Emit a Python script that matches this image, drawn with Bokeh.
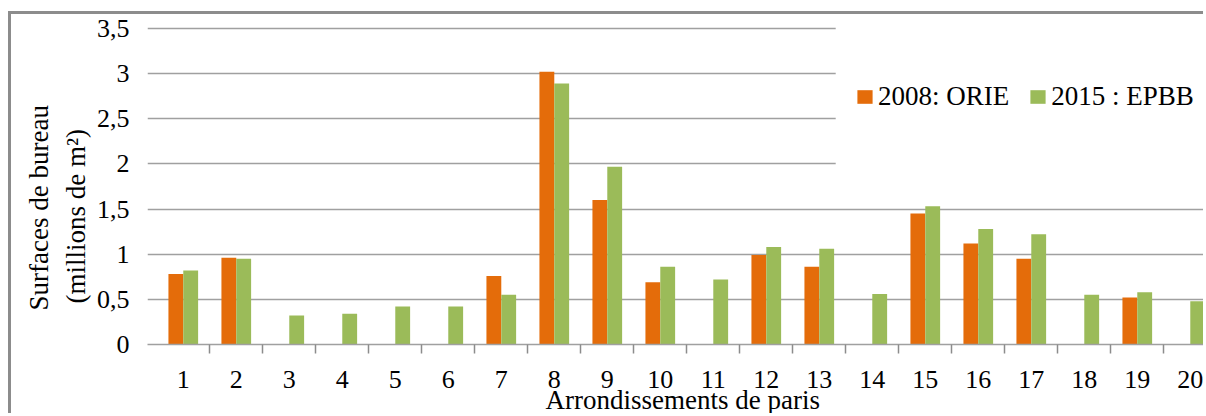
import numpy as np
from bokeh.plotting import figure
from bokeh.models import (Range1d, FixedTicker, Title, Legend, LegendItem,
                          BoxAnnotation, ColumnDataSource)
from bokeh.transform import dodge
from bokeh.embed import file_html
from bokeh.resources import INLINE

# ---- data -------------------------------------------------------------
categories = [str(i) for i in range(1, 21)]
orie_2008 = [0.78, 0.96, None, None, None, None, 0.76, 3.02, 1.60, 0.69,
             None, 0.99, 0.86, None, 1.45, 1.12, 0.95, None, 0.52, None]
epbb_2015 = [0.82, 0.95, 0.32, 0.34, 0.42, 0.42, 0.55, 2.89, 1.97, 0.86,
             0.72, 1.08, 1.06, 0.56, 1.53, 1.28, 1.22, 0.55, 0.58, 0.48]
series_names = ["2008: ORIE", "2015 : EPBB"]
y_ticks = [0, 0.5, 1, 1.5, 2, 2.5, 3, 3.5]
y_tick_labels = ["0", "0,5", "1", "1,5", "2", "2,5", "3", "3,5"]
y_title_1 = "Surfaces de bureau"
y_title_2 = "(millions de m²)"
x_title = "Arrondissements de paris"

ORANGE = "#E46C0A"
GREEN = "#9BBB59"
GRID = "#a0a0a0"
FONT = "'Liberation Serif'"

positions = list(range(1, len(categories) + 1))
src = ColumnDataSource(dict(
    x=positions,
    orie=np.array(orie_2008, dtype=float),
    epbb=np.array(epbb_2015, dtype=float),
))

p = figure(width=1195, height=402,
           x_range=Range1d(0.325, 20.306), y_range=Range1d(0, 3.522),
           output_backend="svg", toolbar_location=None,
           min_border_left=136, min_border_right=0,
           min_border_top=12, min_border_bottom=72)
p.styles = {"border-left": "3px solid #8c8c8c",
            "border-top": "3px solid #8c8c8c",
            "margin-left": "8px",
            "margin-top": "11px"}
p.outline_line_color = None
p.background_fill_color = "white"
p.border_fill_color = "white"

# grid
p.xgrid.visible = False
p.ygrid.ticker = FixedTicker(ticks=y_ticks)
p.ygrid.grid_line_color = GRID
p.ygrid.grid_line_width = 1.5

# y axis
ya = p.yaxis[0]
ya.ticker = FixedTicker(ticks=y_ticks)
ya.major_label_overrides = {t: l for t, l in zip(y_ticks, y_tick_labels)}
ya.axis_line_color = None
ya.major_tick_line_color = None
ya.minor_tick_line_color = None
ya.major_tick_out = 0
ya.major_tick_in = 0
ya.major_label_standoff = 18
ya.major_label_text_font = FONT
ya.major_label_text_font_size = "26px"
ya.major_label_text_color = "black"

# x axis
xa = p.xaxis[0]
xa.ticker = FixedTicker(ticks=positions,
                        minor_ticks=[i + 0.5 for i in positions])
xa.major_label_overrides = {pos: c for pos, c in zip(positions, categories)}
xa.axis_line_color = GRID
xa.axis_line_width = 1.5
xa.major_tick_out = 9
xa.major_tick_in = 0
xa.major_tick_line_alpha = 0
xa.minor_tick_out = 9
xa.minor_tick_in = 0
xa.minor_tick_line_color = "#8c8c8c"
xa.minor_tick_line_width = 1.5
xa.major_label_standoff = 17
xa.major_label_text_font = FONT
xa.major_label_text_font_size = "26px"
xa.major_label_text_color = "black"

# bars
r1 = p.vbar(x=dodge("x", -0.14, range=p.x_range), top="orie", width=0.28,
            source=src, fill_color=ORANGE, line_color=None)
r2 = p.vbar(x=dodge("x", 0.14, range=p.x_range), top="epbb", width=0.28,
            source=src, fill_color=GREEN, line_color=None)

# legend area (white background hiding gridlines, as in the original)
legend_bg = BoxAnnotation(left=13.31, right=21, top=4, bottom=1.75,
                          fill_color="white", fill_alpha=1, line_color=None)
p.add_layout(legend_bg)

legend = Legend(items=[LegendItem(label=series_names[0], renderers=[r1]),
                       LegendItem(label=series_names[1], renderers=[r2])],
                orientation="horizontal", location=(708, 232),
                padding=0, margin=0, spacing=19, label_standoff=4,
                glyph_width=19, glyph_height=17,
                label_text_font=FONT, label_text_font_size="27px",
                label_text_color="black",
                background_fill_alpha=0, border_line_alpha=0)
p.add_layout(legend, "center")

# axis titles
t2 = Title(text=y_title_2, align="left", offset=41, standoff=6,
           text_font=FONT, text_font_size="27px", text_font_style="normal",
           text_color="black")
p.add_layout(t2, "left")
t1 = Title(text=y_title_1, align="left", offset=34, standoff=4,
           text_font=FONT, text_font_size="27px", text_font_style="normal",
           text_color="black")
p.add_layout(t1, "left")
tx = Title(text=x_title, align="left", offset=398, standoff=-16,
           text_font=FONT, text_font_size="27px", text_font_style="normal",
           text_color="black")
p.add_layout(tx, "below")

open("out.html", "w").write(file_html(p, INLINE))
